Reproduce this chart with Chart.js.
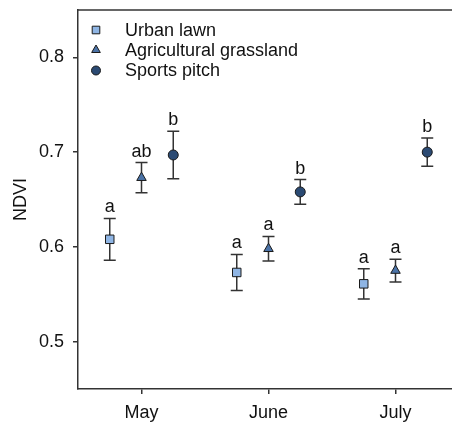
<!DOCTYPE html>
<html>
<head>
<meta charset="utf-8">
<script src="https://cdn.jsdelivr.net/npm/chart.js@4.4.1/dist/chart.umd.min.js"></script>
<style>
  html, body { margin: 0; padding: 0; background: #fff; overflow: hidden; }
  canvas { display: block; }
</style>
</head>
<body>
<canvas id="c" width="466" height="424" style="width:466px;height:424px"></canvas>
<script>
// NDVI by month for three grassland types (mean ± error)
const months = ['May', 'June', 'July'];
const seriesNames = ['Urban lawn', 'Agricultural grassland', 'Sports pitch'];

const urbanMean  = [0.608, 0.573, 0.561];
const urbanErr   = [0.022, 0.019, 0.016];
const agriMean   = [0.673, 0.598, 0.575];
const agriErr    = [0.016, 0.013, 0.012];
const sportsMean = [0.697, 0.658, 0.700];
const sportsErr  = [0.025, 0.013, 0.015];

// significance letters shown above each error bar
const urbanLetters  = ['a', 'a', 'a'];
const agriLetters   = ['ab', 'a', 'a'];
const sportsLetters = ['b', 'b', 'b'];

const yTickValues = [0.5, 0.6, 0.7, 0.8];

const FONT = '"Liberation Sans", Arial, sans-serif';
const INK = '#111111';
const AXIS = '#333333';
const GROUP_SHIFT = 0.25; // horizontal spread of the three series within a month

function makeDataset(label, means, errs, letters, shift, style, color, radius) {
  return {
    label: label,
    data: means.map((m, i) => ({ x: i + shift, y: m, err: errs[i], letter: letters[i] })),
    pointStyle: style,
    pointRadius: radius,
    pointHoverRadius: radius,
    pointBackgroundColor: color,
    pointBorderColor: '#1a1a1a',
    pointBorderWidth: 1,
    backgroundColor: color,
    borderColor: '#1a1a1a',
    showLine: false
  };
}

const datasets = [
  makeDataset(seriesNames[0], urbanMean, urbanErr, urbanLetters, -GROUP_SHIFT, 'rect', '#8fb5e4', 6),
  makeDataset(seriesNames[1], agriMean, agriErr, agriLetters, 0, 'triangle', '#4b73a7', 5.5),
  makeDataset(seriesNames[2], sportsMean, sportsErr, sportsLetters, GROUP_SHIFT, 'circle', '#2b4a73', 5)
];

// error bars drawn beneath the markers, letters above them
const errorBars = {
  id: 'errorBars',
  beforeDatasetsDraw(chart) {
    const ctx = chart.ctx;
    const xs = chart.scales.x, ys = chart.scales.y;
    ctx.save();
    ctx.strokeStyle = AXIS;
    ctx.lineWidth = 1.5;
    chart.data.datasets.forEach(ds => {
      ds.data.forEach(p => {
        const x = xs.getPixelForValue(p.x);
        const yt = ys.getPixelForValue(p.y + p.err);
        const yb = ys.getPixelForValue(p.y - p.err);
        ctx.beginPath();
        ctx.moveTo(x, yt); ctx.lineTo(x, yb);
        ctx.moveTo(x - 6, yt); ctx.lineTo(x + 6, yt);
        ctx.moveTo(x - 6, yb); ctx.lineTo(x + 6, yb);
        ctx.stroke();
      });
    });
    ctx.restore();
  },
  afterDatasetsDraw(chart) {
    const ctx = chart.ctx;
    const xs = chart.scales.x, ys = chart.scales.y;
    ctx.save();
    ctx.fillStyle = INK;
    ctx.font = '18px ' + FONT;
    ctx.textAlign = 'center';
    ctx.textBaseline = 'alphabetic';
    chart.data.datasets.forEach(ds => {
      ds.data.forEach(p => {
        const x = xs.getPixelForValue(p.x);
        const yt = ys.getPixelForValue(p.y + p.err);
        ctx.fillText(p.letter, x, yt - 6);
      });
    });
    ctx.restore();
  }
};

// frame top edge and the in-plot legend
const frameAndLegend = {
  id: 'frameAndLegend',
  afterDraw(chart) {
    const ctx = chart.ctx;
    const a = chart.chartArea;
    ctx.save();
    ctx.strokeStyle = AXIS;
    ctx.lineWidth = 1.5;
    ctx.beginPath();
    ctx.moveTo(a.left, a.top);
    ctx.lineTo(a.right, a.top);
    ctx.stroke();

    const mx = a.left + 18, tx = a.left + 47;
    const rowY = [a.top + 20, a.top + 40, a.top + 60.5];
    chart.data.datasets.forEach((ds, i) => {
      const y = rowY[i];
      ctx.fillStyle = ds.pointBackgroundColor;
      ctx.strokeStyle = '#1a1a1a';
      ctx.lineWidth = 1;
      ctx.beginPath();
      if (ds.pointStyle === 'rect') {
        ctx.rect(mx - 3.8, y - 3.8, 7.6, 7.6);
      } else if (ds.pointStyle === 'triangle') {
        const r = 5;
        ctx.moveTo(mx, y - r);
        ctx.lineTo(mx + r * 0.866, y + r * 0.5);
        ctx.lineTo(mx - r * 0.866, y + r * 0.5);
        ctx.closePath();
      } else {
        ctx.arc(mx, y, 4.5, 0, Math.PI * 2);
      }
      ctx.fill();
      ctx.stroke();
      ctx.fillStyle = INK;
      ctx.font = '18px ' + FONT;
      ctx.textAlign = 'left';
      ctx.textBaseline = 'middle';
      ctx.fillText(ds.label, tx, y + 1);
    });
    ctx.restore();
  }
};

new Chart(document.getElementById('c'), {
  type: 'scatter',
  data: { datasets: datasets },
  plugins: [errorBars, frameAndLegend],
  options: {
    responsive: false,
    animation: false,
    events: [],
    layout: { padding: { top: 10, right: 0, left: 0, bottom: 0 } },
    plugins: { legend: { display: false }, tooltip: { enabled: false } },
    scales: {
      x: {
        type: 'linear',
        min: -0.5,
        max: months.length - 0.5,
        afterBuildTicks: s => { s.ticks = months.map((m, i) => ({ value: i })); },
        afterFit: s => { s.height = 35; s.paddingLeft = 0; s.paddingRight = 0; },
        ticks: {
          callback: v => months[v],
          color: INK,
          font: { size: 18, family: FONT },
          padding: 8,
          maxRotation: 0
        },
        grid: { drawOnChartArea: false, drawTicks: true, tickLength: 5, color: AXIS, lineWidth: 1.5 },
        border: { color: AXIS, width: 1.5 }
      },
      y: {
        type: 'linear',
        min: 0.45,
        max: 0.85,
        afterBuildTicks: s => { s.ticks = yTickValues.map(v => ({ value: v })); },
        afterFit: s => { s.width = 78; s.paddingTop = 0; s.paddingBottom = 0; },
        ticks: {
          callback: v => v.toFixed(1),
          color: INK,
          font: { size: 18, family: FONT },
          padding: 9
        },
        title: {
          display: true,
          text: 'NDVI',
          color: INK,
          font: { size: 18, family: FONT },
          padding: { top: 10, bottom: 0 }
        },
        grid: { drawOnChartArea: false, drawTicks: true, tickLength: 5, color: AXIS, lineWidth: 1.5 },
        border: { color: AXIS, width: 1.5 }
      }
    }
  }
});
</script>
</body>
</html>
